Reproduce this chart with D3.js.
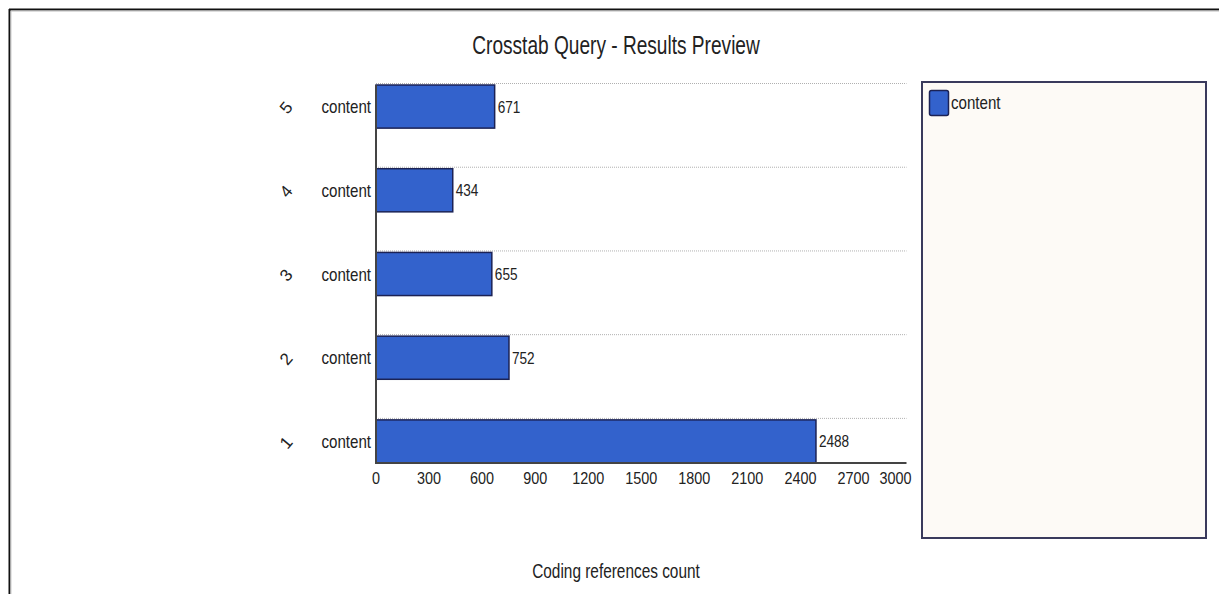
<!DOCTYPE html>
<html>
<head>
<meta charset="utf-8">
<script src="https://cdn.jsdelivr.net/npm/d3@7"></script>
<style>
  html, body { margin: 0; padding: 0; background: #fff; }
  svg { display: block; }
  text { font-family: "Liberation Sans", Arial, sans-serif; fill: #222; }
</style>
</head>
<body>
<svg id="chart" width="1219" height="594"></svg>
<script>
// ---- data ----
const categories = ["5", "4", "3", "2", "1"];        // top to bottom
const seriesName = "content";
const values = [671, 434, 655, 752, 2488];
const xTicks = [0, 300, 600, 900, 1200, 1500, 1800, 2100, 2400, 2700, 3000];
const chartTitle = "Crosstab Query - Results Preview";
const xAxisTitle = "Coding references count";

// ---- layout ----
const svg = d3.select("#chart");
const W = 1219, H = 594;
const plot = { left: 376, right: 906.5, top: 85, bottom: 463 };

const x = d3.scaleLinear().domain([0, 3000]).range([plot.left, plot.right]);
const y = d3.scaleBand().domain(categories).range([plot.top, plot.bottom])
  .paddingInner(0.485).paddingOuter(0);

const barFill = "#3362cc";
const barStroke = "#1b2255";

function addText(parent, px, py, str, size, sx, anchor, rot) {
  const g = parent.append("g")
    .attr("transform", `translate(${px},${py})` + (rot ? ` rotate(${rot})` : "") + ` scale(${sx},1)`);
  g.append("text")
    .attr("text-anchor", anchor || "start")
    .style("font-size", size + "px")
    .text(str);
  return g;
}

// outer frame (top and left edges)
svg.append("line").attr("x1", 9).attr("x2", W).attr("y1", 9.5).attr("y2", 9.5)
  .attr("stroke", "#111").attr("stroke-width", 2);
svg.append("line").attr("x1", 9).attr("x2", W).attr("y1", 11).attr("y2", 11)
  .attr("stroke", "#bbb").attr("stroke-width", 1);
svg.append("line").attr("x1", 9.5).attr("x2", 9.5).attr("y1", 9).attr("y2", H)
  .attr("stroke", "#111").attr("stroke-width", 2);
svg.append("line").attr("x1", 11).attr("x2", 11).attr("y1", 11).attr("y2", H)
  .attr("stroke", "#ccc").attr("stroke-width", 1);

// title
addText(svg, 616, 54, chartTitle, 26, 0.735, "middle");

// dotted gridlines at each bar top
svg.append("g").selectAll("line").data(categories).join("line")
  .attr("x1", plot.left).attr("x2", plot.right)
  .attr("y1", d => y(d) - 1.5).attr("y2", d => y(d) - 1.5)
  .attr("stroke", "#b0b0b0").attr("stroke-width", 1)
  .attr("stroke-dasharray", "1,1");

// bars
svg.append("g").selectAll("rect").data(values).join("rect")
  .attr("x", x(0))
  .attr("y", (d, i) => y(categories[i]))
  .attr("width", d => x(d) - x(0))
  .attr("height", y.bandwidth())
  .attr("fill", barFill)
  .attr("stroke", barStroke)
  .attr("stroke-width", 1.5);

// value labels
const vl = svg.append("g");
values.forEach((v, i) => {
  addText(vl, x(v) + 3, y(categories[i]) + y.bandwidth() / 2 + 6, String(v), 17, 0.8, "start");
});

// category labels ("content") and rotated index labels
const cl = svg.append("g");
categories.forEach(c => {
  const cy = y(c) + y.bandwidth() / 2;
  addText(cl, 371, cy + 6.5, seriesName, 18, 0.84, "end");
  addText(cl, 286, cy + 1, c, 17, 1, "middle", -50)
    .select("text").attr("dy", "0.35em");
});

// axes lines
svg.append("line").attr("x1", plot.left).attr("x2", plot.left)
  .attr("y1", plot.top).attr("y2", plot.bottom)
  .attr("stroke", "#444").attr("stroke-width", 2);
svg.append("line").attr("x1", plot.left - 1).attr("x2", plot.right)
  .attr("y1", plot.bottom).attr("y2", plot.bottom)
  .attr("stroke", "#444").attr("stroke-width", 2);

// x tick labels
const tl = svg.append("g");
xTicks.forEach((t, i) => {
  const last = i === xTicks.length - 1;
  addText(tl, last ? x(t) + 5 : x(t), 484, String(t), 16, 0.9, last ? "end" : "middle");
});

// x axis title
addText(svg, 616, 578, xAxisTitle, 20, 0.77, "middle");

// legend
const lg = svg.append("g");
lg.append("rect").attr("x", 922).attr("y", 82).attr("width", 284).attr("height", 456)
  .attr("fill", "#fdfaf6").attr("stroke", "#3a3a5c").attr("stroke-width", 2);
lg.append("rect").attr("x", 929.5).attr("y", 90.5).attr("width", 19).attr("height", 25)
  .attr("rx", 2).attr("fill", barFill).attr("stroke", barStroke).attr("stroke-width", 1.5);
addText(lg, 951, 108.5, seriesName, 18, 0.84, "start");
</script>
</body>
</html>
